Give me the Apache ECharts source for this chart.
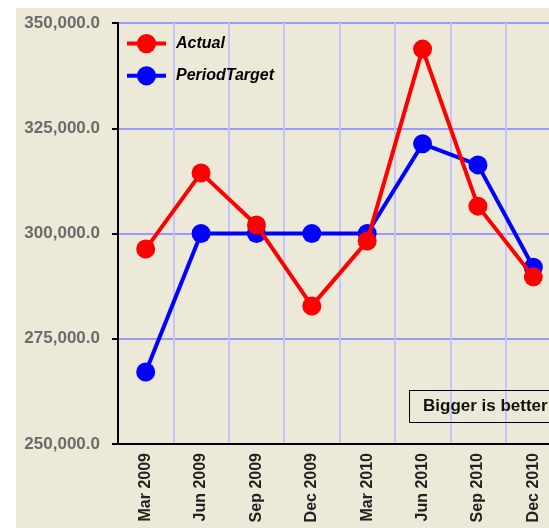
<!DOCTYPE html>
<html lang="en">

<head>
    <meta charset="UTF-8">
    <title>Actual vs PeriodTarget</title>
    <style>
        html, body {
            margin: 0;
            padding: 0;
            background: #ffffff;
        }

        .box {
            position: absolute;
            left: 16px;
            top: 8px;
            width: 533px;
            height: 520px;
            background: #ece9d8;
        }
    </style>
    <script src="https://cdn.jsdelivr.net/npm/echarts@6/dist/echarts.min.js"></script>
</head>

<body>
    <div class="box"></div>
    <script>
        // 数据
        const quarters = ['Mar 2009', 'Jun 2009', 'Sep 2009', 'Dec 2009', 'Mar 2010', 'Jun 2010', 'Sep 2010', 'Dec 2010'];
        const actual = [296300, 314400, 302000, 282800, 298200, 343800, 306500, 289700];
        const periodTarget = [267100, 300000, 300000, 300000, 300000, 321300, 316300, 292000];
        const yTicks = [250000, 275000, 300000, 325000, 350000];

        const chart = echarts.init(document.querySelector('.box'));

        const font = 'Liberation Sans, Arial, sans-serif';

        const option = {
            animation: false,
            title: {
                text: 'Bigger is better',
                left: 393,
                top: 382,
                padding: [8, 14],
                borderColor: '#000',
                borderWidth: 1,
                textStyle: {
                    fontFamily: font,
                    fontSize: 17,
                    fontWeight: 'bold',
                    color: '#111'
                }
            },
            legend: {
                orient: 'vertical',
                left: 104,
                top: 21,
                itemWidth: 39,
                itemHeight: 24,
                itemGap: 13,
                data: ['Actual', 'PeriodTarget'],
                lineStyle: { width: 4 },
                textStyle: {
                    fontFamily: font,
                    fontSize: 16,
                    fontWeight: 'bold',
                    fontStyle: 'italic',
                    color: '#000',
                    padding: [0, 0, 0, 5]
                }
            },
            grid: {
                left: 102,
                top: 15,
                bottom: 84,
                right: -12,
                outerBoundsMode: 'none'
            },
            xAxis: {
                type: 'category',
                data: quarters,
                axisLine: { lineStyle: { color: '#000', width: 2 } },
                axisTick: { length: 47, lineStyle: { color: '#000', width: 2 } },
                axisLabel: {
                    interval: 0,
                    rotate: 90,
                    margin: 9,
                    fontFamily: font,
                    fontSize: 16,
                    fontWeight: 'bold',
                    color: '#222'
                },
                splitLine: { show: true, lineStyle: { color: '#c4c4ff', width: 2 } }
            },
            yAxis: {
                type: 'value',
                min: yTicks[0],
                max: yTicks[yTicks.length - 1],
                interval: 25000,
                axisLine: { show: true, lineStyle: { color: '#000', width: 2 } },
                axisTick: { show: true, length: 6, lineStyle: { color: '#000', width: 2 } },
                axisLabel: {
                    margin: 18,
                    fontFamily: font,
                    fontSize: 17,
                    fontWeight: 'bold',
                    color: '#6b6b6b',
                    formatter: v => v.toLocaleString('en-US', { minimumFractionDigits: 1, maximumFractionDigits: 1 })
                },
                splitLine: { show: true, lineStyle: { color: '#9999ff', width: 2 } }
            },
            series: [{
                name: 'Actual',
                type: 'line',
                data: actual,
                z: 3,
                symbol: 'circle',
                symbolSize: 19,
                color: '#ff0000',
                lineStyle: { width: 4, color: '#ff0000' }
            }, {
                name: 'PeriodTarget',
                type: 'line',
                data: periodTarget,
                z: 2,
                symbol: 'circle',
                symbolSize: 19,
                color: '#0000ff',
                lineStyle: { width: 4, color: '#0000ff' }
            }]
        };

        chart.setOption(option);
    </script>
</body>

</html>
